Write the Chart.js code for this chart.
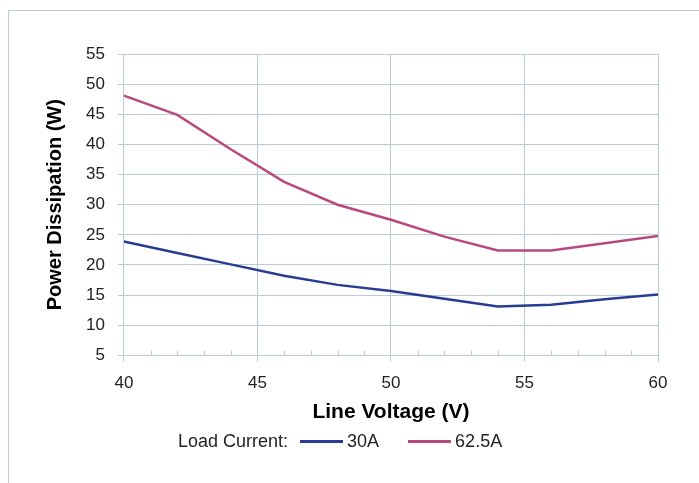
<!DOCTYPE html>
<html>
<head>
<meta charset="utf-8">
<script src="https://cdn.jsdelivr.net/npm/chart.js@4/dist/chart.umd.min.js"></script>
<style>
  html, body { margin: 0; padding: 0; background: #fff; overflow: hidden; }
  #frame { position: absolute; left: 8px; top: 10px; width: 760px; height: 560px; border: 1px solid #bccdd5; box-sizing: border-box; }
  #wrap { position: absolute; left: 0; top: 0; width: 699px; height: 483px; }
  #legend { position: absolute; left: 178px; top: 430px; font: 18px "Liberation Sans", Arial, sans-serif; color: #222; white-space: nowrap; line-height: 22px; }
  #legend span.sw { display: inline-block; width: 43px; height: 0; border-top: 3px solid; vertical-align: middle; margin: 0 4px 0 12px; position: relative; top: -1px; }
  #legend span.gap { display: inline-block; width: 17px; }
</style>
</head>
<body>
<div id="frame"></div>
<div id="wrap"><canvas id="c" width="699" height="483"></canvas></div>
<div id="legend"></div>
<script>
/* Power dissipation vs line voltage, two load currents. */
const voltage = [40, 42, 44, 46, 48, 50, 52, 54, 56, 58, 60];
const p30 = [23.9, 22.0, 20.1, 18.2, 16.7, 15.7, 14.4, 13.1, 13.4, 14.3, 15.1];
const p62 = [48.1, 44.9, 39.2, 33.8, 30.0, 27.5, 24.7, 22.4, 22.4, 23.6, 24.8];
const seriesNames = ["30A", "62.5A"];
const C = { blue: "#283c93", red: "#b8497d", grid: "#b9cbd3", text: "#222" };
const FONT = "'Liberation Sans', Arial, sans-serif";

Chart.defaults.font.family = FONT;
Chart.defaults.color = C.text;

// small inward ticks at the minor (non-labelled) x positions
const minorTicks = {
  id: "minorTicks",
  afterDatasetsDraw(chart) {
    const x = chart.scales.x, a = chart.chartArea, ctx = chart.ctx;
    ctx.save();
    ctx.strokeStyle = C.grid; ctx.lineWidth = 1;
    x.ticks.forEach((t) => {
      if (t.value % 5 === 0) return;
      const px = Math.round(x.getPixelForValue(t.value)) + 0.5;
      ctx.beginPath(); ctx.moveTo(px, a.bottom); ctx.lineTo(px, a.bottom - 5); ctx.stroke();
    });
    ctx.restore();
  }
};

new Chart(document.getElementById("c"), {
  type: "line",
  data: {
    datasets: [
      { label: seriesNames[0], data: voltage.map((v, i) => ({ x: v, y: p30[i] })), borderColor: C.blue, backgroundColor: C.blue, borderWidth: 2.5, pointRadius: 0, tension: 0 },
      { label: seriesNames[1], data: voltage.map((v, i) => ({ x: v, y: p62[i] })), borderColor: C.red, backgroundColor: C.red, borderWidth: 2.5, pointRadius: 0, tension: 0 }
    ]
  },
  options: {
    responsive: false, animation: false,
    layout: { padding: { left: 43, right: 41, top: 54, bottom: 58 } },
    plugins: { legend: { display: false }, tooltip: { enabled: false } },
    scales: {
      x: {
        type: "linear", min: 40, max: 60,
        ticks: { stepSize: 1, padding: 12, autoSkip: false, maxRotation: 0, font: { size: 17 }, color: C.text,
          callback: (v) => (v % 5 === 0 ? v : "") },
        grid: { color: (c) => (c.tick && c.tick.value % 5 === 0 ? C.grid : "rgba(0,0,0,0)"), tickLength: 6, lineWidth: 1 },
        border: { color: C.grid },
        title: { display: true, text: "Line Voltage (V)", font: { size: 21, weight: "bold" }, color: "#000", padding: { top: -6, bottom: 0 } }
      },
      y: {
        min: 5, max: 55,
        ticks: { stepSize: 5, padding: 13, font: { size: 17 }, color: C.text },
        grid: { color: C.grid, tickLength: 6, lineWidth: 1 },
        border: { color: C.grid },
        title: { display: true, text: "Power Dissipation (W)", font: { size: 20, weight: "bold" }, color: "#000", padding: { top: 0, bottom: 6 } }
      }
    }
  },
  plugins: [minorTicks]
});

const colors = [C.blue, C.red];
document.getElementById("legend").innerHTML = "Load Current:" + seriesNames.map((n, i) =>
  `${i ? '<span class="gap"></span>' : ""}<span class="sw" style="border-color:${colors[i]}"></span>${n}`).join("");
</script>
</body>
</html>
